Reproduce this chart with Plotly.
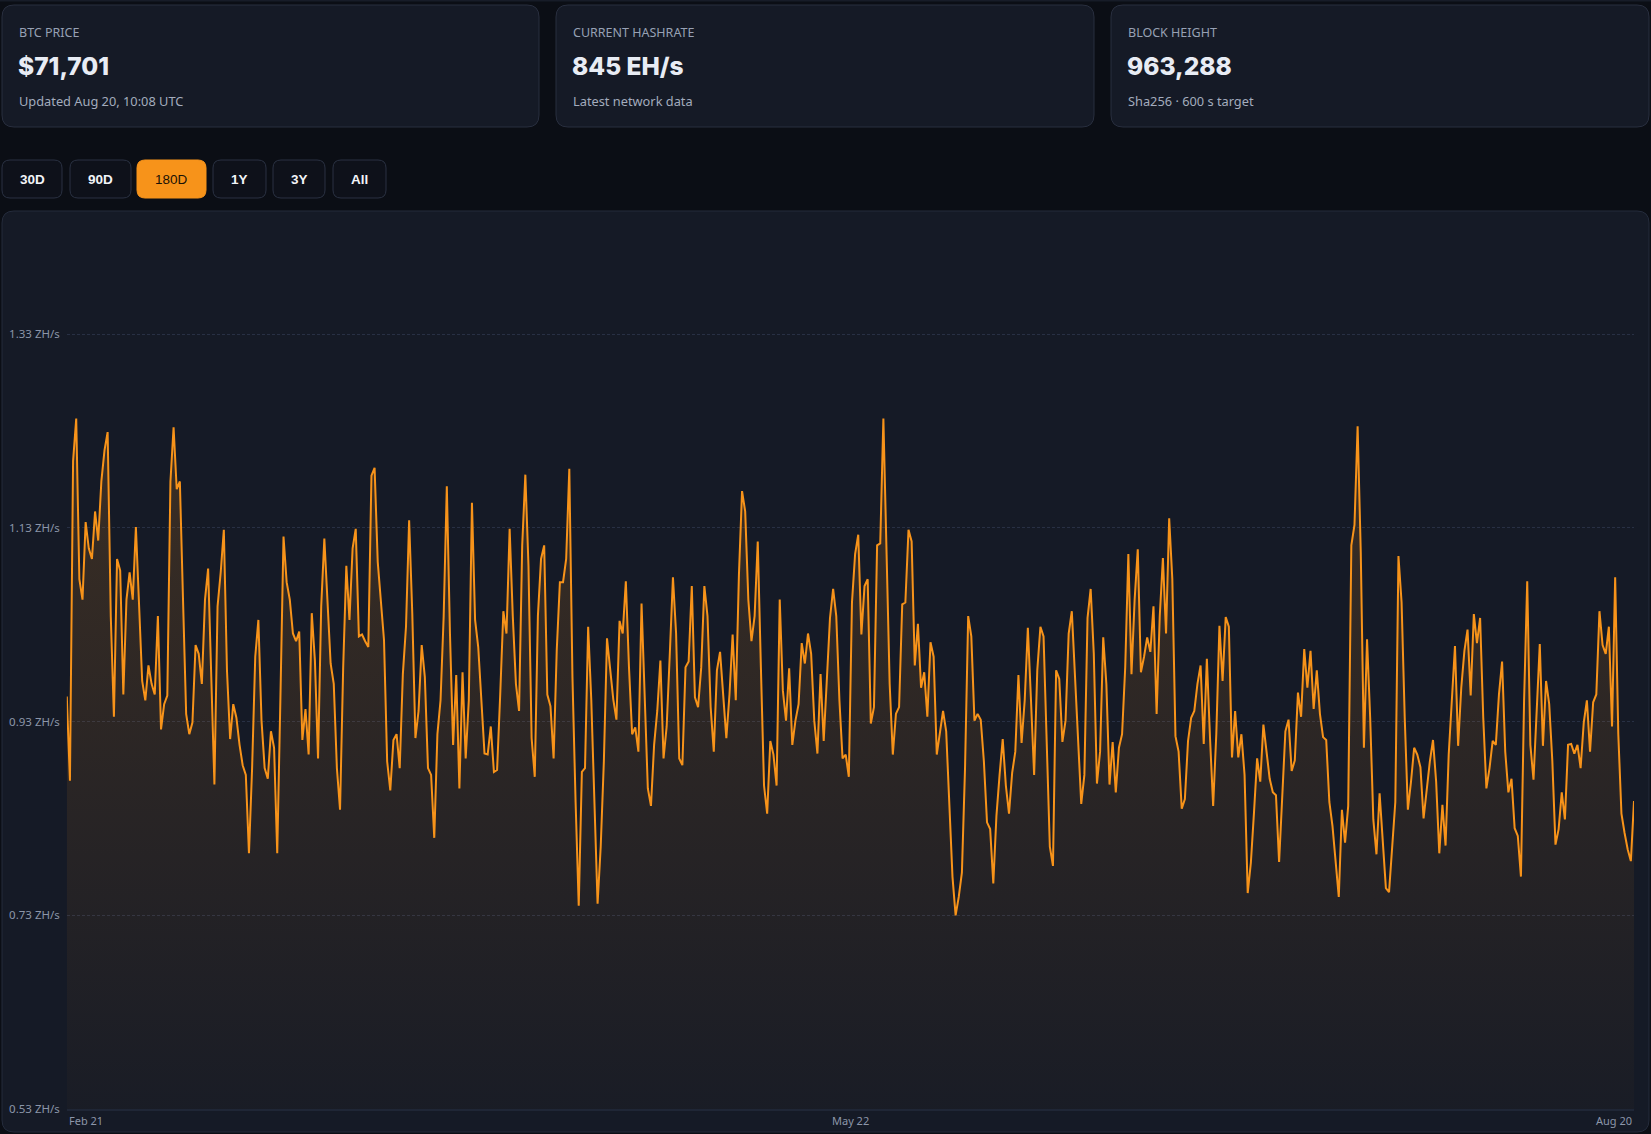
import plotly.graph_objects as go
import pandas as pd

W, H = 1651, 1134

# network hashrate in EH/s, 180 day window (Feb 21 -> Aug 20)
hashrate_eh = [
    953, 866, 1196, 1240, 1074, 1053, 1133, 1106, 1095, 1144,
    1114, 1175, 1207, 1226, 1036, 932, 1095, 1083, 955, 1053,
    1081, 1053, 1128, 1053, 969, 949, 985, 966, 955, 1036,
    919, 945, 954, 1175, 1231, 1167, 1175, 1053, 935, 914,
    926, 1006, 997, 966, 1053, 1085, 983, 862, 1046, 1081,
    1125, 980, 909, 945, 931, 903, 882, 872, 791, 879,
    994, 1032, 928, 879, 868, 917, 900, 791, 949, 1118,
    1071, 1053, 1018, 1010, 1020, 908, 940, 893, 1039, 990,
    889, 1046, 1116,
    1053, 987, 966, 879, 836, 983, 1088, 1032, 1106, 1126,
    1015, 1017, 1010, 1004, 1181, 1189, 1092, 1053, 1011, 886,
    856, 908, 914, 879, 976, 1025, 1135, 1039, 910, 938,
    1006, 973, 879, 872, 807, 914, 949, 1036, 1170, 1018,
    903, 975, 858, 978, 889, 949, 1153, 1032, 1004, 949,
    894, 893, 922, 875, 877, 955, 1041, 1018, 1126, 1036,
    966, 938, 1109, 1182, 1088, 910, 870, 1036, 1095, 1109,
    955, 943, 889, 1001, 1071, 1071, 1095, 1188, 973, 844,
    737, 875, 879, 1025,
    949, 844, 739, 798, 886, 1013, 983, 950, 929, 1031,
    1018, 1072, 983, 914, 921, 896, 1049, 949, 858, 840,
    903, 938, 990, 889, 922, 997, 1076, 1018, 889, 882,
    983, 989, 1067, 952, 942, 983, 1067, 1036, 942, 896,
    980, 999, 955, 910, 955, 1017, 949, 1078, 1165, 1144,
    1053, 1010, 1036, 1113, 983, 861, 832, 907, 893, 861,
    1053, 959, 928, 982, 903, 928, 945, 1008, 987, 1018,
    997, 928, 894, 976, 907, 973, 1034, 1064, 1036, 949,
    889, 893, 870, 1050, 1100,
    1120, 1017, 1067, 1074, 925, 942, 1109, 1111, 1240, 1088,
    966, 893, 935, 942, 1048, 1050, 1125, 1113, 985, 1028,
    962, 978, 932, 1009, 994, 893, 914, 938, 917, 844,
    767, 727, 746, 771, 879, 1036, 1015, 928, 935, 929,
    886, 823, 816, 760, 830, 872, 909, 861, 832, 874,
    896, 975, 905, 949, 1024, 949, 872, 980, 1025, 1015,
    896, 798, 778, 980, 971, 906, 928, 1018, 1041, 976,
    903, 842, 872, 1034, 1064, 997, 863, 896, 1014, 966,
    862, 906, 854, 900,
    914, 983, 1100, 976, 1053, 1105, 978, 994, 1014, 999,
    1046, 935, 1036, 1096, 1018, 1137, 1074, 912, 896, 837,
    847, 907, 931, 938, 966, 985, 904, 992, 910, 840,
    914, 1026, 969, 1035, 1025, 890, 938, 890, 914, 872,
    750, 781, 833, 889, 865, 924, 896, 868, 854, 851,
    782, 844, 917, 929, 876, 887, 957, 932, 1002, 962,
    1000, 940, 980, 935, 911, 908, 844, 819, 781, 746,
    836, 802, 840, 1109, 1130, 1232, 1102, 900, 1012, 931,
    826, 790, 853,
    802, 755, 751, 802, 844, 1098, 1050, 931, 836, 865,
    900, 893, 880, 827, 858, 886, 908, 865, 791, 841,
    799, 893, 949, 1005, 902, 962, 1000, 1022, 954, 1038,
    1008, 1034, 931, 858, 879, 907, 903, 955, 989, 896,
    854, 868, 817, 809, 767, 949, 1072, 903, 867, 931,
    1007, 902, 969, 945, 886, 800, 816, 854, 826, 903,
    904, 894, 903, 879, 926, 949, 896, 947, 955, 1041,
    1006, 997, 1025, 922, 1076, 914, 832, 812, 795, 783,
    845,
]
dates = pd.date_range("2025-02-21", "2025-08-20", periods=len(hashrate_eh))

x_tick_text = ["Feb 21", "May 22", "Aug 20"]
y_tick_vals = [527, 727, 927, 1127, 1327]
y_range = [527, 1440]

card_titles = ["BTC PRICE", "CURRENT HASHRATE", "BLOCK HEIGHT"]
card_values = ["$71,701", "845 EH/s", "963,288"]
card_notes = ["Updated Aug 20, 10:08 UTC", "Latest network data", "Sha256 · 600 s target"]

range_buttons = ["30D", "90D", "180D", "1Y", "3Y", "All"]
active_range = "180D"

ORANGE = "#f7931a"
PAGE_BG = "#0b0e15"
CARD_BG = "#151a26"
BORDER = "#282e3e"
MUTED = "#97a1b4"
AXIS_TXT = "#8c96a9"


def px(x):
    return x / W


def py(y):
    return 1 - y / H


def rounded_rect(x0, y0, x1, y1, r, fill, line):
    rx, ry = r / W, r / H
    a, b = px(x0), px(x1)
    t, u = py(y0), py(y1)
    path = (f"M{a + rx},{t} L{b - rx},{t} Q{b},{t} {b},{t - ry} "
            f"L{b},{u + ry} Q{b},{u} {b - rx},{u} "
            f"L{a + rx},{u} Q{a},{u} {a},{u + ry} "
            f"L{a},{t - ry} Q{a},{t} {a + rx},{t} Z")
    return dict(type="path", xref="paper", yref="paper", path=path,
                fillcolor=fill, line=dict(color=line, width=1), layer="below")


def text(x, y, s, size, color, family="Noto Sans", weight=None, xanchor="left"):
    f = dict(size=size, color=color, family=family)
    if weight:
        f["weight"] = weight
    return dict(x=px(x), y=py(y), xref="paper", yref="paper", text=s,
                showarrow=False, xanchor=xanchor, yanchor="middle", font=f)


shapes = []
annotations = []

# thin header edge at the very top of the page
shapes.append(dict(type="rect", xref="paper", yref="paper", x0=0, x1=1,
                   y0=py(1.5), y1=1, fillcolor="#171c28", line=dict(width=0),
                   layer="below"))

# stat cards
card_x = [(2, 539), (556, 1094), (1111, 1649)]
for (x0, x1), title, val, note in zip(card_x, card_titles, card_values, card_notes):
    shapes.append(rounded_rect(x0, 5, x1, 127, 12, CARD_BG, BORDER))
    annotations.append(text(x0 + 15, 33, title, 12.5, MUTED))
    annotations.append(text(x0 + 14, 66, val, 24.5, "#e8ecf4", family="Inter", weight=800))
    annotations.append(text(x0 + 15, 101, note, 12.8, "#a3acbd"))

# range selector
btn_x = [(2, 62), (70, 131), (137, 206), (213, 266), (273, 325), (333, 386)]
for (x0, x1), lab in zip(btn_x, range_buttons):
    on = lab == active_range
    shapes.append(rounded_rect(x0, 160, x1, 198, 8,
                               ORANGE if on else "#0e111a",
                               ORANGE if on else "#2a3142"))
    annotations.append(text((x0 + x1) / 2, 179.5, lab, 13.5,
                            "#1a1206" if on else "#f2f4f8",
                            family="Liberation Sans", weight=700 if not on else 400,
                            xanchor="center"))

# chart panel
shapes.append(rounded_rect(2, 211, 1649, 1132, 12, CARD_BG, "#242b3b"))

# x tick labels pinned to first / middle / last day
mid = dates[0] + (dates[-1] - dates[0]) / 2
for d, lab, anc in zip([dates[0], mid, dates[-1]], x_tick_text, ["left", "center", "right"]):
    annotations.append(dict(x=d, y=py(1120), xref="x", yref="paper", text=lab,
                            showarrow=False, xanchor=anc, yanchor="middle",
                            font=dict(size=11, color=AXIS_TXT, family="Noto Sans")))

fig = go.Figure()
fig.add_trace(go.Scatter(
    x=dates, y=hashrate_eh, mode="lines",
    line=dict(color=ORANGE, width=2),
    fill="tozeroy",
    fillgradient=dict(type="vertical", start=527, stop=1240,
                      colorscale=[[0, "rgba(247,147,26,0.02)"],
                                  [1, "rgba(247,147,26,0.17)"]]),
    hoverinfo="skip",
))

fig.update_layout(
    width=W, height=H,
    autosize=False,
    margin=dict(l=0, r=0, t=0, b=0, pad=0),
    paper_bgcolor=PAGE_BG,
    plot_bgcolor="rgba(0,0,0,0)",
    showlegend=False,
    shapes=shapes,
    annotations=annotations,
    xaxis=dict(domain=[px(66.8), px(1634)], range=[dates[0], dates[-1]],
               showgrid=False, zeroline=False, showticklabels=False, ticks="",
               showline=True, linecolor="#1f2636", linewidth=2,
               automargin=False, fixedrange=True),
    yaxis=dict(domain=[py(1109), py(224.8)], range=y_range,
               tickvals=y_tick_vals,
               ticktext=[f"{v / 1000:.2f} ZH/s" for v in y_tick_vals],
               tickfont=dict(size=11.5, color=AXIS_TXT, family="Noto Sans"),
               ticklabelstandoff=6,
               showgrid=True, gridcolor="#283044", griddash="3px,2px", gridwidth=1,
               zeroline=False, showline=False, ticks="",
               automargin=False, fixedrange=True),
)

# no body margin, so the figure is exactly the window
fig.write_html(
    "out.html",
    config={"displayModeBar": False},
    post_script="var s='margin:0;padding:0;overflow:hidden;background:#0b0e15';"
                "document.documentElement.style.cssText=s;"
                "document.body.style.cssText=s;",
)
